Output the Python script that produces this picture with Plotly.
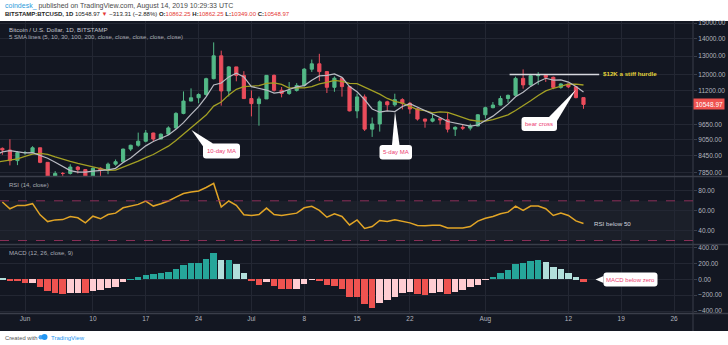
import math
import numpy as np
import pandas as pd
import plotly.graph_objects as go

# ---------------------------------------------------------------- canvas
W, H = 728, 345
ML, MR, MT, MB = 0, 35, 21, 32
PW, PH = W - ML - MR, H - MT - MB


def px(x):
    return (x - ML) / PW


def py(y):
    return (H - MB - y) / PH


# ---------------------------------------------------------------- data
# BTC/USD daily candles on Bitstamp, 29 May - 14 Aug 2019
dates = pd.date_range("2019-05-29", "2019-08-14", freq="D")

opens = [8719, 8659, 8270,
         8560, 8564, 8742, 8208, 7707, 7824, 7822, 8043, 7954, 7688, 8000, 7927, 8145, 8230, 8693,
         8838, 8994, 9320, 9081, 9273, 9527, 10144, 10701, 10855, 11011, 11790, 13016, 11182, 12407, 11959,
         10817, 10583, 10801, 11961, 11215, 11060, 11208, 11450, 12285, 12573, 12156, 11358, 11815, 11393,
         10256, 10895, 9477, 9693, 10666, 10530, 10767, 10599, 10343, 9900, 9811, 9911, 9870, 9477, 9552,
         9519, 9607,
         10085, 10399, 10518, 10821, 10970, 11805, 11478, 11941, 11966, 11862, 11354, 11523, 11382, 10862.25]
highs = [8755, 9070, 8620,
         8625, 8802, 8745, 8210, 7901, 7868, 8140, 8080, 7975, 8034, 8031, 8199, 8311, 8710, 8859,
         9335, 9441, 9331, 9301, 9594, 10200, 11157, 11305, 11065, 11840, 13796, 13311, 12445, 12408, 12178,
         11207, 10912, 11968, 12007, 11373, 11620, 11568, 12345, 12808, 13130, 12190, 11906, 11841, 11434,
         11052, 11010, 9964, 10736, 10716, 11048, 10833, 10660, 10380, 9916, 10154, 9950, 10185, 9594, 9682,
         9701, 10110,
         10446, 10657, 10946, 11009, 11895, 12274, 12036, 12130, 12023, 11896, 11560, 11528, 11420, 10862.25]
lows = [8482, 8100, 8110,
        8481, 8540, 8178, 7450, 7572, 7444, 7786, 7821, 7532, 7600, 7721, 7796, 8087, 8183, 8618,
        8780, 8950, 8990, 9070, 9239, 9480, 10107, 10696, 10602, 10950, 11755, 10491, 10914, 11657, 10799,
        10015, 9620, 10800, 11148, 10875, 10991, 11149, 11393, 12138, 11674, 11080, 11140, 10908, 10234,
        9936, 9400, 9164, 9376, 10240, 10451, 10322, 10130, 9834, 9535, 9760, 9667, 9343, 9200, 9440,
        9426, 9598,
        9923, 10371, 10503, 10620, 10960, 11290, 11433, 11486, 11625, 11265, 11289, 11320, 10830, 10349.00]
closes = [8659, 8270, 8560,
          8564, 8742, 8208, 7707, 7824, 7822, 8043, 7954, 7688, 8000, 7927, 8145, 8230, 8693, 8838,
          8994, 9320, 9081, 9273, 9527, 10144, 10701, 10855, 11011, 11790, 13016, 11182, 12407, 11959, 10817,
          10583, 10801, 11961, 11215, 11060, 11208, 11450, 12285, 12573, 12156, 11358, 11815, 11393, 10256,
          10895, 9477, 9693, 10666, 10530, 10767, 10599, 10343, 9900, 9811, 9911, 9870, 9477, 9552, 9519,
          9607, 10085,
          10399, 10518, 10821, 10970, 11805, 11478, 11941, 11966, 11862, 11354, 11523, 11382, 10862.25, 10548.97]

# closes of the sessions just before the first candle (feed the moving averages)
prior_dates = pd.date_range("2019-05-19", "2019-05-28", freq="D")
prior_closes = [8197, 7979, 8052, 7677, 7878, 7996, 8059, 8726, 8785, 8719]

# RSI(14, close)
rsi14 = [68.8, 62.0, 65.4,
         65.4, 67.1, 55.9, 49.1, 50.8, 51.1, 54.2, 52.9, 47.8, 54.5, 51.9, 56.2, 57.6, 63.0, 64.4,
         66.4, 69.8, 64.7, 67.1, 69.8, 73.8, 77.3, 78.9, 80.0, 83.4, 87.5, 63.7, 69.8, 65.4, 55.9,
         55.2, 56.2, 62.7, 56.2, 55.2, 56.2, 57.6, 63.0, 64.4, 60.3, 53.5, 57.0, 54.2, 45.7,
         50.8, 42.2, 44.1, 50.2, 49.1, 50.8, 49.5, 47.8, 45.1, 44.8, 45.4, 45.4, 42.7, 43.0, 42.7,
         44.1, 49.5,
         52.5, 54.2, 57.0, 58.6, 64.7, 60.3, 64.7, 64.7, 62.0, 55.2, 57.6, 55.2, 49.8, 47.1]

# MACD(12, 26, close, 9) histogram
macd_hist = [8, -15, -25,
             -45, -42, -92, -146, -175, -183, -175, -168, -176, -146, -133, -112, -92, -29, 4,
             25, 58, 67, 75, 88, 125, 179, 200, 208, 254, 333, 242, 250, 192, 75,
             -17, -75, -37, -83, -121, -125, -118, -58, -3, -17, -75, -78, -121, -225,
             -228, -310, -365, -300, -259, -217, -175, -155, -188, -200, -167, -155, -188, -155, -134,
             -100, -71,
             -5, 34, 75, 117, 188, 200, 229, 238, 221, 150, 125, 84, 25, -33]

hurdle_price = 12000
last_price = closes[-1]

tick_dates = ["2019-06-01", "2019-06-10", "2019-06-17", "2019-06-24", "2019-07-01", "2019-07-08",
              "2019-07-15", "2019-07-22", "2019-08-01", "2019-08-12", "2019-08-19", "2019-08-26"]
tick_text = ["Jun", "10", "17", "24", "Jul", "8", "15", "22", "Aug", "12", "19", "26"]
price_ticks = [7850, 8450, 9050, 9650, 10450, 11200, 12000, 13000, 14000, 15000]
rsi_ticks = [40, 60, 80]
macd_ticks = [-400, -200, 0, 200, 400]

# ---------------------------------------------------------------- derived series
all_close = pd.Series(prior_closes + closes, index=prior_dates.append(dates))
sma5 = all_close.rolling(5).mean().loc["2019-05-28":]
sma10 = all_close.rolling(10).mean().loc["2019-05-28":]

UP, DOWN = "#53B987", "#EB4D5C"
H_UP, H_UP_FADE, H_DN, H_DN_FADE = "#26A69A", "#B2DFDB", "#EF5350", "#FFCDD2"
hist_colors = []
for i, v in enumerate(macd_hist):
    rising = i > 0 and v >= macd_hist[i - 1]
    if v >= 0:
        hist_colors.append(H_UP if rising else H_UP_FADE)
    else:
        hist_colors.append(H_DN_FADE if rising else H_DN)

# price-scale labels; the one sitting under the last-price marker stays blank
price_text = [f"{v:.2f}" if abs(math.log10(v) - math.log10(last_price)) > 0.012 else ""
              for v in price_ticks]

# ---------------------------------------------------------------- style
BG = "#131722"
GRID = "#232733"
SEP = "#3A3E4A"
TXT = "#B2B5BE"
FONT = "Liberation Sans, Arial, sans-serif"
PINK = "#EC3E72"

x_range = ["2019-05-28 16:30", "2019-08-28 12:15"]

fig = go.Figure()

fig.add_trace(go.Candlestick(
    x=dates, open=opens, high=highs, low=lows, close=closes,
    xaxis="x", yaxis="y", whiskerwidth=0,
    increasing=dict(line=dict(color=UP, width=1), fillcolor=UP),
    decreasing=dict(line=dict(color=DOWN, width=1), fillcolor=DOWN),
    showlegend=False, hoverinfo="skip"))
fig.add_trace(go.Scatter(x=sma10.index, y=sma10.values, mode="lines", xaxis="x", yaxis="y",
                         line=dict(color="#A3A024", width=1.3), showlegend=False, hoverinfo="skip"))
fig.add_trace(go.Scatter(x=sma5.index, y=sma5.values, mode="lines", xaxis="x", yaxis="y",
                         line=dict(color="#B9BBC3", width=1.2), showlegend=False, hoverinfo="skip"))
fig.add_trace(go.Scatter(x=["2019-08-04 05:00", "2019-08-16 02:00"], y=[hurdle_price, hurdle_price],
                         mode="lines", xaxis="x", yaxis="y",
                         line=dict(color="#D6D8DE", width=1.5), showlegend=False, hoverinfo="skip"))

fig.add_trace(go.Scatter(x=dates, y=rsi14, mode="lines", xaxis="x2", yaxis="y2",
                         line=dict(color="#E2A526", width=1.5), showlegend=False, hoverinfo="skip"))

fig.add_trace(go.Bar(x=dates, y=macd_hist, marker=dict(color=hist_colors, line=dict(width=0)),
                     width=0.86 * 86400000, xaxis="x3", yaxis="y3", showlegend=False, hoverinfo="skip"))

common_x = dict(type="date", range=x_range, tickvals=tick_dates, ticktext=tick_text,
                showgrid=True, gridcolor=GRID, gridwidth=1, zeroline=False, showline=False,
                ticks="", fixedrange=True)
tickfont = dict(family=FONT, size=6.5, color=TXT)
common_y = dict(side="right", showgrid=True, gridcolor=GRID, gridwidth=1, zeroline=False,
                showline=False, ticks="outside", ticklen=3, tickcolor=SEP, tickfont=tickfont,
                fixedrange=True)

fig.update_layout(
    width=W, height=H,
    margin=dict(l=ML, r=MR, t=MT, b=MB, pad=0),
    paper_bgcolor=BG, plot_bgcolor=BG,
    bargap=0, boxgap=0.4,
    xaxis=dict(**common_x, anchor="y", showticklabels=False, rangeslider=dict(visible=False)),
    xaxis2=dict(**common_x, anchor="y2", showticklabels=False),
    xaxis3=dict(**common_x, anchor="y3", showticklabels=True, tickfont=tickfont),
    yaxis=dict(**common_y, type="log", domain=[py(176), 1.0], anchor="x",
               range=[math.log10(7737), math.log10(15134)],
               tickvals=price_ticks, ticktext=price_text),
    yaxis2=dict(**common_y, domain=[py(244), py(177)], anchor="x2", range=[26.5, 94],
                tickvals=rsi_ticks, ticktext=[f"{v:.2f}" for v in rsi_ticks]),
    yaxis3=dict(**common_y, domain=[0, py(245)], anchor="x3", range=[-425, 433],
                tickvals=macd_ticks,
                ticktext=[f"{v:.2f}".replace("-", "\u2212") for v in macd_ticks]),
    showlegend=False,
)

shapes = []
XR = W / PW
# white header and footer strips
shapes.append(dict(type="rect", xref="paper", yref="paper", x0=0, x1=XR, y0=py(21), y1=py(0),
                   fillcolor="white", line=dict(width=0), layer="below"))
shapes.append(dict(type="rect", xref="paper", yref="paper", x0=0, x1=XR, y0=py(H), y1=py(331),
                   fillcolor="white", line=dict(width=0), layer="below"))
# pane separators and price-scale border
for yy in (176.5, 244.5, 313.5):
    shapes.append(dict(type="line", xref="paper", yref="paper", x0=0, x1=XR, y0=py(yy), y1=py(yy),
                       line=dict(color=SEP, width=1.5)))
shapes.append(dict(type="line", xref="paper", yref="paper", x0=1, x1=1, y0=py(331), y1=py(21),
                   line=dict(color=SEP, width=1)))
# RSI band
shapes.append(dict(type="rect", xref="x2 domain", yref="y2", x0=0, x1=1, y0=30, y1=70,
                   fillcolor="rgba(255,255,255,0.035)", line=dict(width=0), layer="below"))
for lvl in (30, 70):
    shapes.append(dict(type="line", xref="x2 domain", yref="y2", x0=0, x1=1, y0=lvl, y1=lvl,
                       line=dict(color="#8C2F58", width=1, dash="dash")))


def P(x, y):
    return f"{px(x):.5f},{py(y):.5f}"


def rounded_box(x0, y0, x1, y1, r=3):
    return ("M" + P(x0 + r, y0) + " L" + P(x1 - r, y0) + " Q" + P(x1, y0) + " " + P(x1, y0 + r) +
            " L" + P(x1, y1 - r) + " Q" + P(x1, y1) + " " + P(x1 - r, y1) +
            " L" + P(x0 + r, y1) + " Q" + P(x0, y1) + " " + P(x0, y1 - r) +
            " L" + P(x0, y0 + r) + " Q" + P(x0, y0) + " " + P(x0 + r, y0) + " Z")


def tail(tip, a, b):
    return "M" + P(*tip) + " L" + P(*a) + " L" + P(*b) + " Z"


callouts = [
    # text, box (x0, y0, x1, y1), tail tip, tail base points
    ("10-day MA", (203, 143.5, 240, 158.5), (191.5, 130), (203.5, 147), (213, 143.5)),
    ("5-day MA", (379.5, 145, 412, 159.5), (395, 111.5), (392, 145), (399.5, 145)),
    ("bear cross", (521.5, 117, 557, 131), (576, 89.5), (549, 117), (557, 121)),
    ("MACD below zero", (603.5, 272.5, 657.5, 286.5), (595.5, 279.5), (603.5, 276), (603.5, 283)),
]
annotations = []
for text, box, tip, a, b in callouts:
    shapes.append(dict(type="path", xref="paper", yref="paper", path=tail(tip, a, b),
                       fillcolor="white", line=dict(width=0)))
    shapes.append(dict(type="path", xref="paper", yref="paper", path=rounded_box(*box),
                       fillcolor="white", line=dict(width=0)))
    annotations.append(dict(xref="paper", yref="paper", x=px((box[0] + box[2]) / 2),
                            y=py((box[1] + box[3]) / 2), text=text, showarrow=False,
                            xanchor="center", yanchor="middle",
                            font=dict(family=FONT, size=6, color=PINK)))

# footer logo
shapes.append(dict(type="circle", xref="paper", yref="paper", x0=px(38.5), x1=px(43),
                   y0=py(339.5), y1=py(335), fillcolor="#4BA3F0", line=dict(width=0)))
shapes.append(dict(type="circle", xref="paper", yref="paper", x0=px(41.5), x1=px(47.5),
                   y0=py(340), y1=py(334), fillcolor="#2196F3", line=dict(width=0)))


def label(x, y, text, size=6.5, color=TXT, anchor="left"):
    annotations.append(dict(xref="paper", yref="paper", x=px(x), y=py(y), text=text,
                            showarrow=False, xanchor=anchor, yanchor="middle",
                            font=dict(family=FONT, size=size, color=color)))


RED = "#E53935"
label(3, 6, "<span style='color:#2D9CDB'>coindesk_</span> published on TradingView.com, "
            "August 14, 2019 10:29:33 UTC", size=7, color="#4A4A4A")
label(3, 14.5, "<b>BITSTAMP:BTCUSD, 1D</b> 10548.97 <span style='color:%s'>\u25bc</span> "
               "\u2212313.31 (\u22122.88%%) <b>O:</b><span style='color:%s'>10862.25</span> "
               "<b>H:</b><span style='color:%s'>10862.25</span> "
               "<b>L:</b><span style='color:%s'>10349.00</span> "
               "<b>C:</b><span style='color:%s'>10548.97</span>" % (RED, RED, RED, RED, RED),
      size=6, color="#222222")
label(7, 29, "Bitcoin / U.S. Dollar, 1D, BITSTAMP", size=6.2, color="#C3C6CE")
label(7, 37.5, "5 SMA lines (5, 10, 30, 100, 200, close, close, close, close, close)", size=6,
      color="#A9ACB5")
label(7, 185, "RSI (14, close)", size=6, color="#A9ACB5")
label(7, 253, "MACD (12, 26, close, 9)", size=6, color="#A9ACB5")
label(592, 223.5, "RSI below 50", size=6.2, color="#D1D4DC")
label(600.5, 74, "<b>$12K a stiff hurdle</b>", size=6.2, color="#E4D43A")
label(3, 337.5, "Created with", size=5.8, color="#555555")
label(49, 337.5, "TradingView", size=6, color="#2196F3")

# last-price marker on the price scale
annotations.append(dict(xref="paper", yref="y", x=1.0, y=math.log10(last_price),
                        text=f"{last_price:.2f}", showarrow=False, xanchor="left", yanchor="middle",
                        bgcolor="#EF5350", borderpad=1.5,
                        font=dict(family=FONT, size=6.5, color="white")))

fig.update_layout(shapes=shapes, annotations=annotations)
fig.write_html("out.html")
